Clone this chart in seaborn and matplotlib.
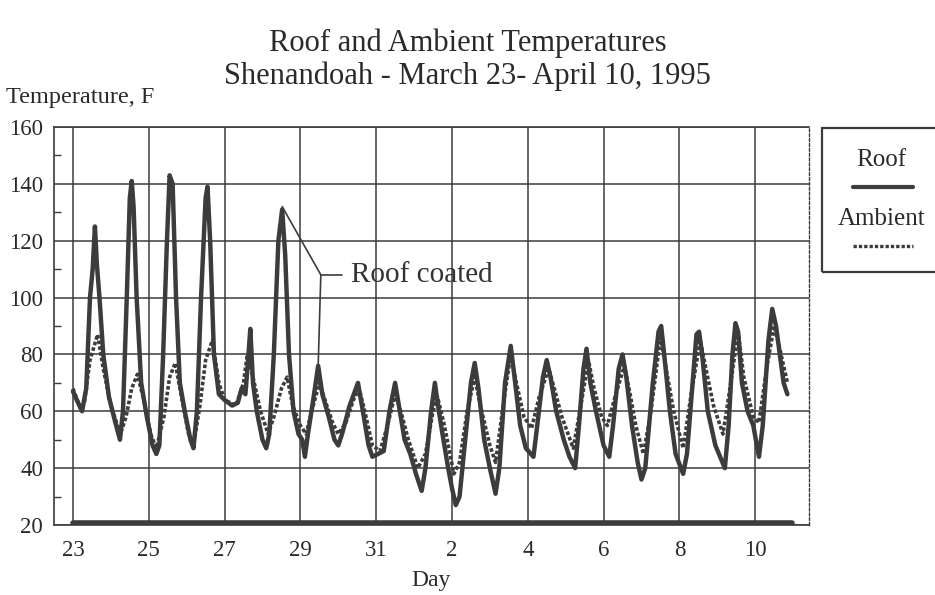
import matplotlib
matplotlib.use("Agg")
import matplotlib.pyplot as plt
import seaborn as sns
import numpy as np
import pandas as pd
from matplotlib.lines import Line2D
from matplotlib.patches import Rectangle

# ---- data (day index: 0 = March 23) ----
roof_day = [0.00, 0.10, 0.24, 0.35, 0.45, 0.52, 0.58, 0.63, 0.70, 0.80, 0.95, 1.10, 1.24, 1.32, 1.42, 1.50,
            1.55, 1.60, 1.68, 1.80, 1.95, 2.10, 2.20, 2.28, 2.38, 2.48, 2.55, 2.63, 2.72, 2.82, 2.95, 3.10,
            3.18, 3.27, 3.38, 3.50, 3.55, 3.62, 3.72, 3.85, 4.00, 4.20, 4.35, 4.45, 4.55, 4.62, 4.68, 4.75,
            4.85, 5.00, 5.10, 5.18, 5.30, 5.42, 5.52, 5.60, 5.70, 5.82, 5.95, 6.05, 6.12, 6.20, 6.35, 6.47,
            6.58, 6.75, 6.90, 7.00, 7.10, 7.30, 7.52, 7.65, 7.80, 7.90, 8.05, 8.20, 8.35, 8.50, 8.60, 8.75,
            8.90, 9.05, 9.20, 9.30, 9.45, 9.55, 9.62, 9.75, 9.90, 10.00, 10.10, 10.20, 10.35, 10.50, 10.60,
            10.70, 10.85, 11.00, 11.15, 11.25, 11.40, 11.55, 11.65, 11.80, 11.95, 12.15, 12.25, 12.40, 12.50,
            12.60, 12.75, 12.95, 13.10, 13.25, 13.35, 13.47, 13.55, 13.65, 13.80, 14.00, 14.15, 14.25, 14.40,
            14.50, 14.60, 14.75, 14.90, 15.00, 15.10, 15.30, 15.45, 15.52, 15.60, 15.75, 15.90, 16.10, 16.20,
            16.35, 16.45, 16.52, 16.60, 16.75, 16.95, 17.20, 17.30, 17.40, 17.48, 17.55, 17.65, 17.80, 17.95,
            18.10, 18.20, 18.35, 18.45, 18.55, 18.65, 18.75, 18.85]
roof_temp = [67, 64, 60, 68, 100, 110, 125, 112, 100, 80, 65, 57, 50, 60, 100, 135,
             141, 132, 100, 70, 58, 48, 45, 48, 80, 120, 143, 140, 100, 70, 60, 50,
             47, 60, 100, 135, 139, 120, 80, 66, 64, 62, 63, 68, 66, 78, 89, 70,
             60, 50, 47, 52, 80, 120, 131, 115, 80, 60, 52, 50, 44, 52, 65, 76,
             66, 58, 50, 48, 52, 62, 70, 60, 48, 44, 45, 46, 60, 70, 62, 50,
             45, 38, 32, 40, 60, 70, 63, 52, 40, 33, 27, 30, 50, 70, 77,
             68, 50, 40, 31, 40, 70, 83, 72, 55, 47, 44, 55, 72, 78,
             72, 60, 50, 44, 40, 55, 75, 82, 70, 60, 48, 44, 55, 75,
             80, 72, 55, 42, 36, 40, 70, 88, 90, 80, 60, 45, 38, 45,
             70, 87, 88, 80, 60, 48, 40, 55, 80, 91, 88, 70, 60, 55,
             44, 55, 85, 96, 90, 80, 70, 66]

amb_day = [0.00, 0.20, 0.30, 0.45, 0.65, 0.80, 1.00, 1.25, 1.40, 1.55, 1.70, 1.85, 2.05, 2.20, 2.40, 2.55,
           2.70, 2.85, 3.05, 3.18, 3.35, 3.50, 3.68, 3.85, 4.00, 4.30, 4.50, 4.60, 4.75, 4.95, 5.15, 5.30,
           5.50, 5.65, 5.80, 6.00, 6.15, 6.30, 6.50, 6.65, 6.85, 7.00, 7.20, 7.40, 7.55, 7.70, 7.90, 8.10,
           8.30, 8.50, 8.65, 8.85, 9.10, 9.30, 9.50, 9.62, 9.80, 10.05, 10.20, 10.40, 10.60, 10.75, 11.00,
           11.15, 11.35, 11.55, 11.70, 11.90, 12.10, 12.30, 12.55, 12.70, 12.90, 13.20, 13.40, 13.60, 13.75,
           13.95, 14.10, 14.30, 14.55, 14.70, 14.85, 15.05, 15.25, 15.50, 15.65, 15.85, 16.10, 16.30, 16.55,
           16.70, 16.90, 17.15, 17.30, 17.55, 17.70, 17.95, 18.10, 18.30, 18.50, 18.65, 18.85]
amb_temp = [68, 61, 63, 78, 87, 75, 62, 52, 58, 68, 73, 65, 52, 47, 58, 72,
            77, 66, 52, 48, 62, 78, 85, 70, 64, 62, 70, 80, 72, 60, 52, 58,
            68, 72, 62, 55, 52, 60, 70, 64, 56, 52, 56, 64, 68, 60, 48, 46,
            55, 66, 60, 50, 40, 45, 60, 65, 55, 38, 42, 60, 72, 62, 48,
            42, 62, 80, 70, 58, 54, 65, 75, 68, 58, 47, 62, 78, 68,
            58, 55, 65, 76, 66, 55, 45, 60, 86, 75, 60, 47, 65, 85,
            75, 62, 52, 65, 88, 72, 58, 56, 75, 90, 82, 70]

base_day = [0.0, 18.97]
base_temp = [20.8, 20.8]

tick_pos = [0, 2, 4, 6, 8, 10, 12, 14, 16, 18]
tick_labels = ["23", "25", "27", "29", "31", "2", "4", "6", "8", "10"]

# ---- style ----
sns.set_theme(style="white")
plt.rcParams['font.family'] = ['Liberation Serif', 'DejaVu Serif']
ink = "#3c3c3c"
txt = "#2a2a2a"

fig = plt.figure(figsize=(9.35, 5.95), dpi=100)
ax = fig.add_axes([54 / 935, 1 - 525 / 595, (809 - 54) / 935, (525 - 127) / 595])

roof_df = pd.DataFrame({"day": roof_day, "temp": roof_temp})
amb_df = pd.DataFrame({"day": amb_day, "temp": amb_temp})
base_df = pd.DataFrame({"day": base_day, "temp": base_temp})

sns.lineplot(data=amb_df, x="day", y="temp", ax=ax, color=ink, lw=2.6, linestyle=(0, (1, 0.6)), zorder=3)
sns.lineplot(data=roof_df, x="day", y="temp", ax=ax, color=ink, lw=3.2, zorder=4)
sns.lineplot(data=base_df, x="day", y="temp", ax=ax, color=ink, lw=4.0, zorder=4)

ax.set_xlim(-0.5, 19.42)
ax.set_ylim(20, 160)
ax.set_xticks(tick_pos)
ax.set_xticklabels(tick_labels)
ax.set_yticks(np.arange(20, 161, 20))
ax.set_yticks(np.arange(30, 160, 20), minor=True)
ax.tick_params(axis="both", which="major", labelsize=16.5, colors=txt, direction="in", length=0)
ax.tick_params(axis="x", which="major", pad=11)
ax.tick_params(axis="y", which="major", pad=8)
ax.tick_params(axis="y", which="minor", direction="in", length=5, color=ink, left=True)
ax.grid(True, which="major", color=ink, lw=1.1)
for s in ["left", "bottom", "top"]:
    ax.spines[s].set_color(ink)
    ax.spines[s].set_linewidth(1.2)
ax.spines["right"].set_color(ink)
ax.spines["right"].set_linewidth(1.0)
ax.spines["right"].set_linestyle((0, (2, 1.5)))
ax.set_xlabel("Day", fontsize=17, color=txt, labelpad=6)
ax.set_ylabel("")

# annotation "Roof coated"
jx, jy = 6.54, 108
ax.plot([5.52, jx], [132, jy], color=ink, lw=1.2, zorder=5)
ax.plot([jx, 6.47], [jy, 76], color=ink, lw=1.2, zorder=5)
ax.plot([jx, 7.1], [jy, jy], color=ink, lw=1.2, zorder=5)
ax.text(7.33, jy, "Roof coated", fontsize=21, color="#333333", va="center", ha="left", zorder=6)

# titles
fig.text(0.5, 0.927, "Roof and Ambient Temperatures", ha="center", va="center", fontsize=22, color=txt)
fig.text(0.5, 0.872, "Shenandoah - March 23- April 10, 1995", ha="center", va="center", fontsize=22, color=txt)
fig.text(0.006, 0.836, "Temperature, F", ha="left", va="center", fontsize=17.5, color=txt)

# legend box
fig.patches.append(Rectangle((0.879, 0.543), 0.2, 0.242, transform=fig.transFigure,
                             fill=False, edgecolor=ink, lw=1.6, clip_on=False))
fig.text(0.943, 0.731, "Roof", ha="center", va="center", fontsize=18, color=txt)
fig.lines.append(Line2D([0.912, 0.977], [0.686, 0.686], transform=fig.transFigure, color=ink, lw=3.0))
fig.text(0.943, 0.632, "Ambient", ha="center", va="center", fontsize=18, color=txt)
fig.lines.append(Line2D([0.912, 0.977], [0.587, 0.587], transform=fig.transFigure, color=ink, lw=2.4,
                        linestyle=(0, (1, 0.6))))

fig.savefig("out.png", dpi=100)
